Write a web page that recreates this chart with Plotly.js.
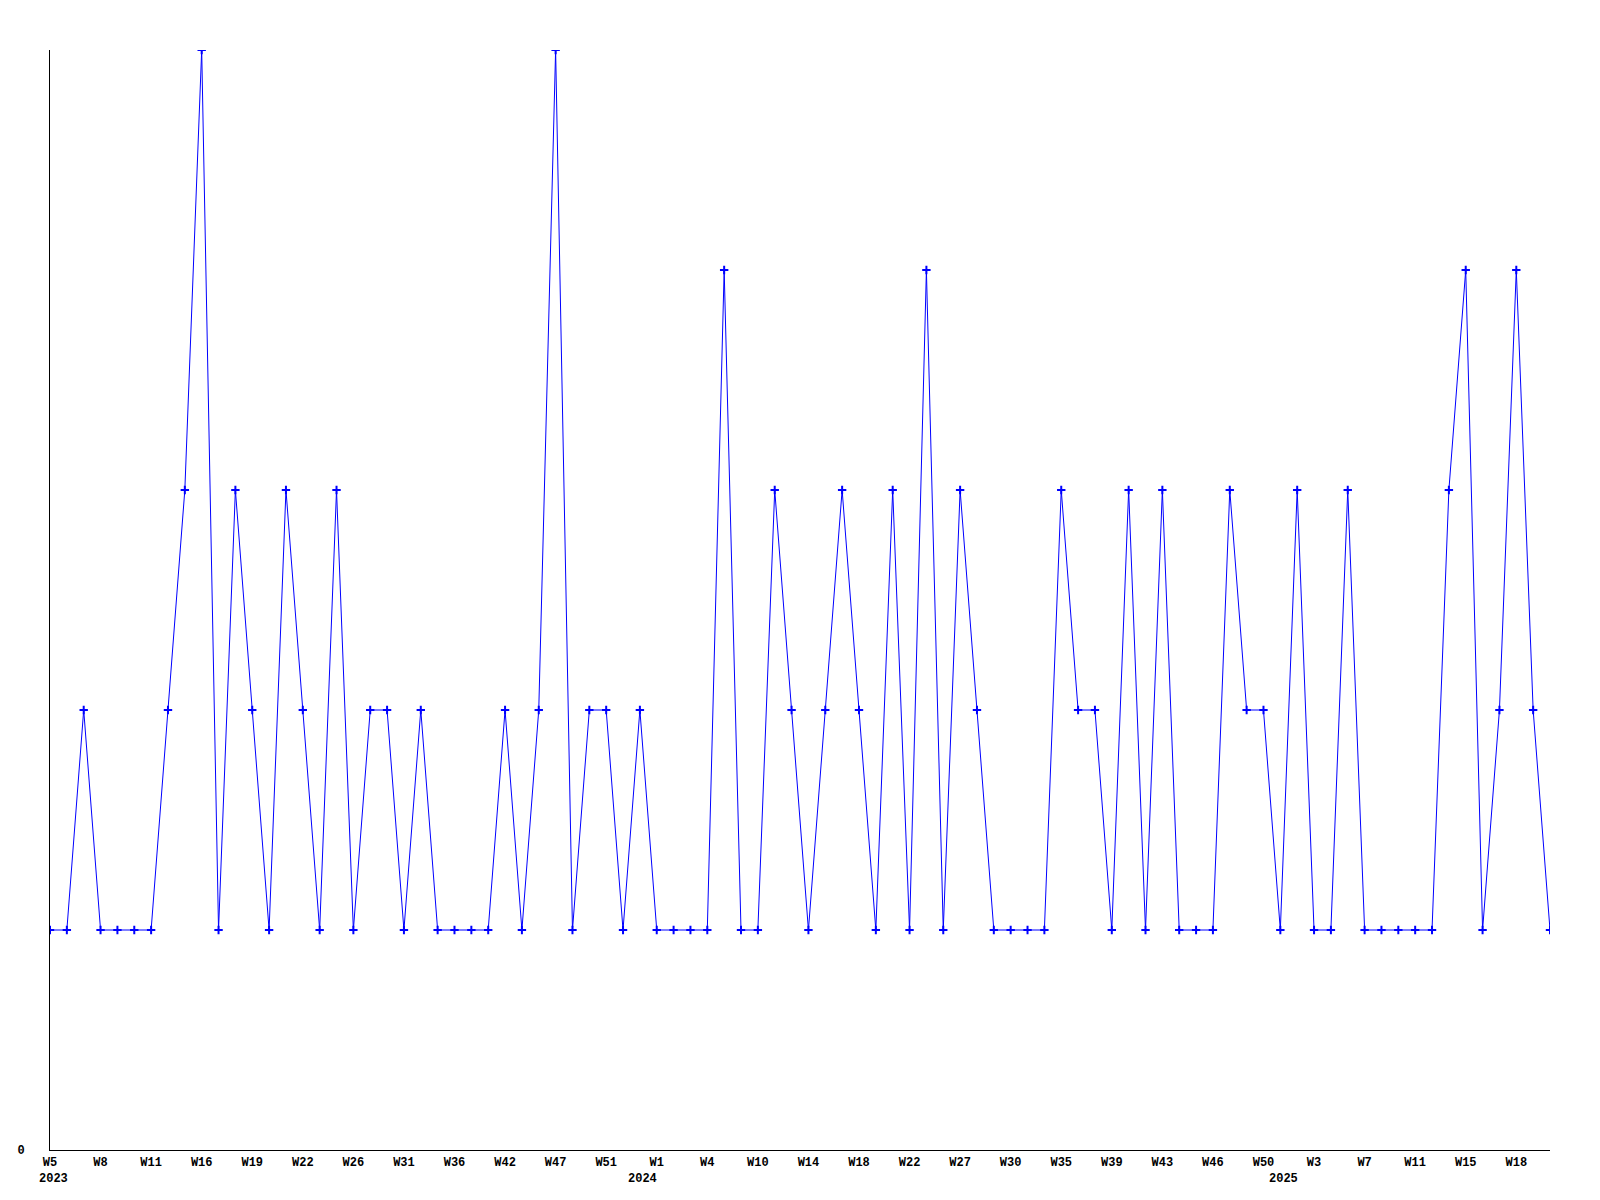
<!DOCTYPE html>
<html>
<head>
<meta charset="utf-8">
<script src="https://cdn.plot.ly/plotly-3.0.1.min.js"></script>
<style>
  html, body { margin: 0; padding: 0; background: #ffffff; }
  #chart { width: 1600px; height: 1200px; }
</style>
</head>
<body>
<div id="chart"></div>
<script>
// Weekly values (one per data point, in order)
const values = [
  1, 1, 2, 1, 1, 1, 1, 2, 3, 5,
  1, 3, 2, 1, 3, 2, 1, 3, 1, 2,
  2, 1, 2, 1, 1, 1, 1, 2, 1, 2,
  5, 1, 2, 2, 1, 2, 1, 1, 1, 1,
  4, 1, 1, 3, 2, 1, 2, 3, 2, 1,
  3, 1, 4, 1, 3, 2, 1, 1, 1, 1,
  3, 2, 2, 1, 3, 1, 3, 1, 1, 1,
  3, 2, 2, 1, 3, 1, 1, 3, 1, 1,
  1, 1, 1, 3, 4, 1, 2, 4, 2, 1
];

// Tick labels: every third data point carries a week label
const weekLabels = [
  'W5', 'W8', 'W11', 'W16', 'W19', 'W22', 'W26', 'W31', 'W36', 'W42',
  'W47', 'W51', 'W1', 'W4', 'W10', 'W14', 'W18', 'W22', 'W27', 'W30',
  'W35', 'W39', 'W43', 'W46', 'W50', 'W3', 'W7', 'W11', 'W15', 'W18'
];
const labelStep = 3;

// Year labels and the data point each year label sits under
const yearLabels = ['2023', '2024', '2025'];
const yearPoint = [0, 35, 73];

const xs = values.map((_, i) => i);
const tickvals = weekLabels.map((_, i) => i * labelStep);

const fontFam = '"Liberation Mono", "DejaVu Sans Mono", monospace';
const tickFont = { family: fontFam, size: 12, color: '#000000', weight: 'bold' };

const trace = {
  x: xs,
  y: values,
  type: 'scatter',
  mode: 'lines+markers',
  line: { color: '#0000ff', width: 1 },
  marker: { symbol: 'cross-thin', size: 6, color: '#0000ff', line: { color: '#0000ff', width: 2 } },
  cliponaxis: true,
  hoverinfo: 'x+y'
};

const annotations = yearLabels.map((t, i) => ({
  x: yearPoint[i],
  y: 0,
  xref: 'x',
  yref: 'y',
  text: t,
  showarrow: false,
  xanchor: 'center',
  yanchor: 'middle',
  xshift: 3,
  yshift: -29,
  font: tickFont
}));

const layout = {
  width: 1600,
  height: 1200,
  paper_bgcolor: '#ffffff',
  plot_bgcolor: '#ffffff',
  margin: { l: 50, r: 50, t: 50, b: 50, pad: 0 },
  showlegend: false,
  xaxis: {
    range: [0, values.length - 1],
    tickmode: 'array',
    tickvals: tickvals,
    ticktext: weekLabels,
    ticks: '',
    showgrid: false,
    zeroline: false,
    showline: true,
    linecolor: '#000000',
    linewidth: 1,
    tickfont: tickFont,
    tickangle: 0,
    ticklabelstandoff: 1
  },
  yaxis: {
    range: [0, 5],
    tickmode: 'array',
    tickvals: [0],
    ticktext: ['0'],
    ticks: '',
    showgrid: false,
    zeroline: false,
    showline: true,
    linecolor: '#000000',
    linewidth: 1,
    tickfont: tickFont,
    ticklabelstandoff: 22
  },
  annotations: annotations
};

Plotly.newPlot('chart', [trace], layout, { displayModeBar: false, staticPlot: true });
</script>
</body>
</html>
